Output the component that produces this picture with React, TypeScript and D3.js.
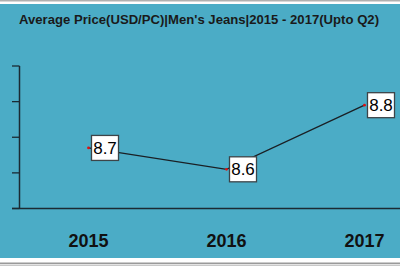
import React from "react";
import * as d3 from "d3";

const title = "Average Price(USD/PC)|Men's Jeans|2015 - 2017(Upto Q2)";
const categories = ["2015", "2016", "2017"];
const values = [8.67, 8.61, 8.79];
const yTicks = [8.5, 8.6, 8.7, 8.8, 8.9];

const W = 400;
const H = 266;

export default function App() {
  const x = d3.scaleBand<string>().domain(categories).range([19.5, 433.5]);
  const y = d3.scaleLinear().domain([8.5, 8.9]).range([208.5, 66]);
  const line = d3
    .line<number>()
    .x((_, i) => (x(categories[i]) as number) + x.bandwidth() / 2)
    .y((d) => y(d));
  const axisColor = "#1b2a33";
  return (
    <div style={{ position: "fixed", left: 0, top: 0, width: W, height: H }}>
      <svg width={W} height={H} style={{ display: "block" }}>
        <rect x={0} y={0} width={W} height={H} fill="#ffffff" />
        <rect x={0} y={0} width={W} height={1.5} fill="#b0b0b0" />
        <rect x={0} y={4} width={W} height={254} fill="#4BACC6" />
        <rect x={0} y={262.5} width={W} height={1.5} fill="#9a9a9a" />
        <rect x={0} y={264.5} width={W} height={1.5} fill="#c8c8c8" />
        <text
          x={199}
          y={23.5}
          textAnchor="middle"
          fontFamily="Liberation Sans, Arial, sans-serif"
          fontWeight="bold"
          fontSize={13.5}
          fill="#1a1a1a"
          textLength={360}
          lengthAdjust="spacingAndGlyphs"
        >
          {title}
        </text>
        {/* y axis */}
        <line x1={19.5} x2={19.5} y1={y(8.9)} y2={y(8.5)} stroke={axisColor} strokeWidth={1.5} />
        {yTicks.map((t) => (
          <line key={t} x1={12} x2={19.5} y1={y(t)} y2={y(t)} stroke={axisColor} strokeWidth={1.3} />
        ))}
        {/* x axis */}
        <line x1={12} x2={W} y1={y(8.5)} y2={y(8.5)} stroke={axisColor} strokeWidth={1.5} />
        {categories.map((c) => (
          <text
            key={c}
            x={(x(c) as number) + x.bandwidth() / 2}
            y={246.5}
            textAnchor="middle"
            fontFamily="Liberation Sans, Arial, sans-serif"
            fontWeight="bold"
            fontSize={18}
            fill="#111"
          >
            {c}
          </text>
        ))}
        <path d={line(values) || ""} fill="none" stroke="#1a1f24" strokeWidth={1.3} />
        {values.map((v, i) => {
          const cx = (x(categories[i]) as number) + x.bandwidth() / 2;
          const cy = y(v);
          return (
            <g key={i}>
              <circle cx={cx} cy={cy} r={1.4} fill="#e01010" />
              <rect
                x={cx + 3}
                y={cy - 12.5}
                width={27}
                height={25}
                fill="#ffffff"
                stroke="#3d4448"
                strokeWidth={1.3}
              />
              <text
                x={cx + 16.5}
                y={cy + 6}
                textAnchor="middle"
                fontFamily="Liberation Sans, Arial, sans-serif"
                fontSize={17}
                fill="#000"
              >
                {v.toFixed(1)}
              </text>
            </g>
          );
        })}
      </svg>
    </div>
  );
}
